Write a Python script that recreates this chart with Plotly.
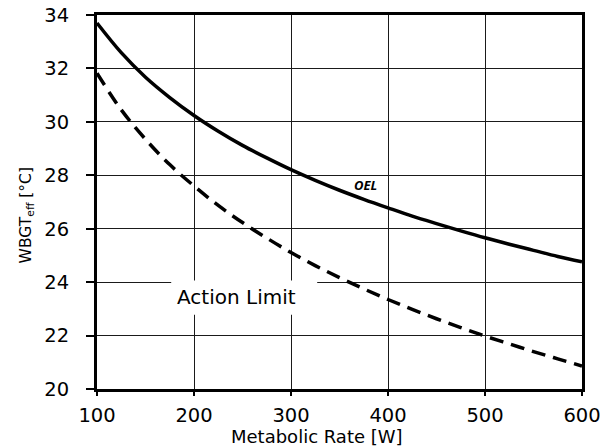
import plotly.graph_objects as go

# Metabolic rate [W]
metabolic_rate = [100, 125, 150, 175, 200, 225, 250, 275, 300, 325, 350,
                  375, 400, 425, 450, 475, 500, 525, 550, 575, 600]
# OEL curve WBGTeff [°C]
oel = [33.70, 32.59, 31.67, 30.91, 30.24, 29.65, 29.12, 28.65, 28.21, 27.81, 27.44,
       27.10, 26.78, 26.47, 26.19, 25.92, 25.66, 25.42, 25.19, 24.96, 24.76]
# Action limit curve WBGTeff [°C]
action_limit = [31.82, 30.45, 29.35, 28.40, 27.60, 26.87, 26.23, 25.65, 25.11, 24.62, 24.17,
                23.75, 23.35, 22.98, 22.63, 22.30, 21.98, 21.69, 21.40, 21.13, 20.86]

x_ticks = [100, 200, 300, 400, 500, 600]
y_ticks = [20, 22, 24, 26, 28, 30, 32, 34]

FONT = "DejaVu Sans"

fig = go.Figure()
fig.add_trace(go.Scatter(x=metabolic_rate, y=oel, mode="lines",
                         line=dict(color="black", width=3.5, shape="spline"),
                         showlegend=False, hoverinfo="skip"))
fig.add_trace(go.Scatter(x=metabolic_rate, y=action_limit, mode="lines",
                         line=dict(color="black", width=3.5, dash="14px,8px", shape="spline"),
                         showlegend=False, hoverinfo="skip"))

# white box behind "Action Limit" label, hiding gridlines
fig.add_shape(type="rect", xref="x", yref="y", x0=176.5, x1=327, y0=22.78, y1=24.06,
              fillcolor="white", line=dict(width=0), layer="between")

fig.add_annotation(x=244, y=23.45, xref="x", yref="y", text="Action Limit",
                   showarrow=False, font=dict(family=FONT, size=20, color="black"))
fig.add_annotation(x=377, y=27.63, xref="x", yref="y", text="<b><i>OEL</i></b>",
                   showarrow=False, font=dict(family="Open Sans", size=13, color="black"))

# axis titles
fig.add_annotation(x=327, y=-0.128, xref="x", yref="paper", text="Metabolic Rate [W]",
                   showarrow=False, yanchor="middle", font=dict(family=FONT, size=18, color="black"))
fig.add_annotation(x=-0.169, y=26.5, xref="paper", yref="y", text="WBGT<sub>eff</sub> [°C]",
                   textangle=-90, showarrow=False, font=dict(family=FONT, size=15.5, color="black"))

axis_common = dict(showline=True, linecolor="black", linewidth=3, mirror=True,
                   showgrid=True, gridcolor="#1a1a1a", gridwidth=1.2,
                   ticks="outside", tickcolor="black", tickwidth=1.5,
                   tickfont=dict(family=FONT, size=19.5, color="black"),
                   zeroline=False, automargin=False)

fig.update_xaxes(range=[100, 600], tickvals=x_ticks, ticklen=4,
                 ticklabelstandoff=3, **axis_common)
fig.update_yaxes(range=[20, 34], tickvals=y_ticks, ticklen=8,
                 ticklabelstandoff=13, **axis_common)

fig.update_layout(width=603, height=448,
                  margin=dict(l=97, r=21, t=15, b=59),
                  plot_bgcolor="white", paper_bgcolor="white",
                  font=dict(family=FONT, color="black"))

fig.write_html("out.html", config={"displayModeBar": False},
               post_script="document.body.style.margin='0';document.body.style.overflow='hidden';")
